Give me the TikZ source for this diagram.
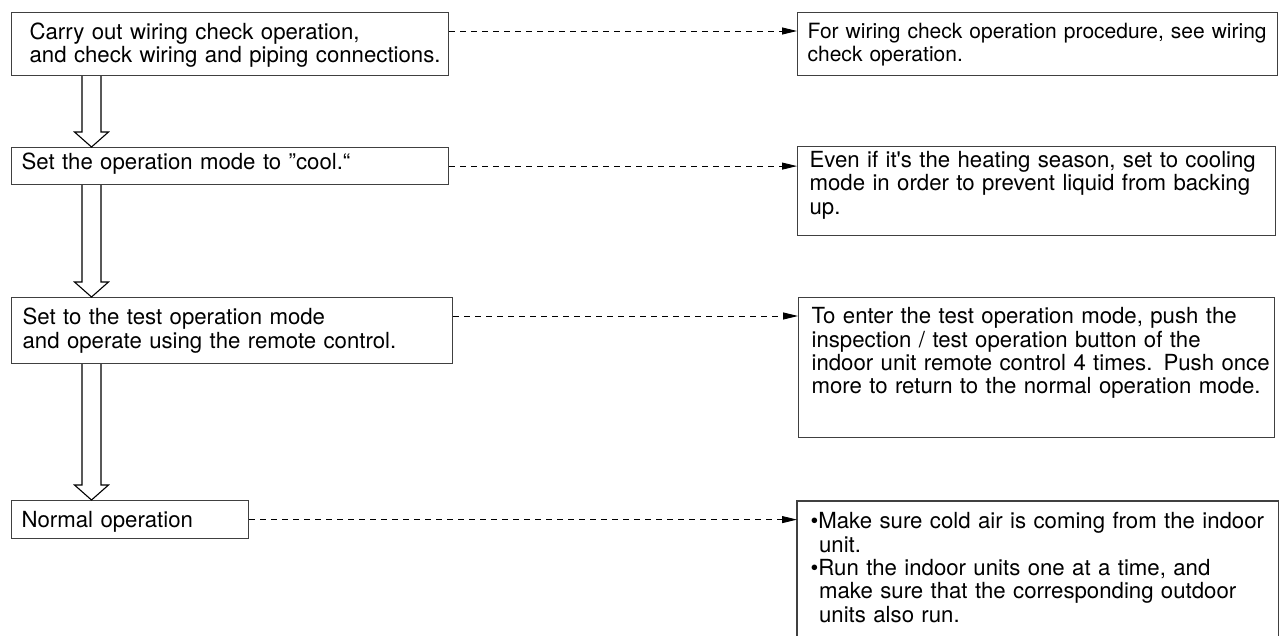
\documentclass[tikz,border=0pt]{standalone}
\usepackage{fontspec}
\usetikzlibrary{arrows.meta, calc}

\newfontfamily\flowfont{TeX Gyre Heros}[Ligatures=TeXOff]

\tikzset{
  stepbox/.style={draw=black!75, line width=1.2pt, anchor=north west,
    inner xsep=10pt, inner ysep=0pt, align=left,
    font=\flowfont\fontsize{22.2pt}{23.4pt}\selectfont},
  dashlink/.style={draw=black, line width=0.9pt, dash pattern=on 6pt off 5pt,
    -{Triangle[length=15pt,width=7pt]}},
  hollow/.style={draw=black, line width=1.1pt, fill=white},
}

% hollow flow arrow from #1 (top) down to #2 (tip)
\newcommand{\flowarrow}[2]{%
  \draw[hollow] ($(#1)+(-9.5,0)$) -- ($(#2)+(-9.5,-15)$) -- ($(#2)+(-17,-15)$)
    -- (#2) -- ($(#2)+(17,-15)$) -- ($(#2)+(9.5,-15)$) -- ($(#1)+(9.5,0)$);}

\begin{document}
\begin{tikzpicture}[x=1pt, y=-1pt]

  \useasboundingbox (0,0) rectangle (1279,636);

  % Steps
  \node[stepbox, inner xsep=7pt, text width=423pt, text height=27pt, text depth=36pt] (b1) at (11,12)
    {\mbox{\hspace*{11pt}Carry out wiring check operation,}\\\mbox{\hspace*{11pt}and check wiring and piping connections.}};
  \node[stepbox, text width=417pt, text height=22pt, text depth=15pt] (b2) at (11,147)
    {\mbox{Set the operation mode to ”cool.“}};
  \node[stepbox, inner xsep=11pt, text width=419pt, text height=27pt, text depth=39pt] (b3) at (11,297)
    {\mbox{Set to the test operation mode}\\\mbox{and operate using the remote control.}};
  \node[stepbox, text width=217pt, text height=27pt, text depth=11pt] (b4) at (11,500)
    {\mbox{Normal operation}};

  % Notes
  \node[stepbox, font=\flowfont\fontsize{21pt}{23.4pt}\selectfont, text width=460pt, text height=26pt, text depth=37pt] (r1) at (797,12)
    {\mbox{For wiring check operation procedure, see wiring}\\\mbox{check operation.}};
  \node[stepbox, inner xsep=12pt, text width=454pt, text height=21pt, text depth=68pt] (r2) at (797,146)
    {\mbox{Even if it's the heating season, set to cooling}\\\mbox{mode in order to prevent liquid from backing}\\\mbox{up.}};
  \node[stepbox, inner xsep=13pt, text width=450pt, text height=26pt, text depth=114pt] (r3) at (798,297)
    {\mbox{To enter the test operation mode, push the}\\\mbox{inspection / test operation button of the}\\\mbox{indoor unit remote control 4 times. Push once}\\\mbox{more to return to the normal operation mode.}};
  \node[stepbox, draw=none, inner xsep=13pt, text width=454pt, text height=27pt, text depth=108pt] (r4) at (797,501)
    {\mbox{•Make sure cold air is coming from the indoor}\\\mbox{\hspace*{8.5pt}unit.}\\\mbox{•Run the indoor units one at a time, and}\\\mbox{\hspace*{8.5pt}make sure that the corresponding outdoor}\\\mbox{\hspace*{8.5pt}units also run.}};
  \draw[black!75, line width=1.2pt] (r4.south west) -- (r4.north west) -- (r4.north east) -- (r4.south east);

  % Flow arrows
  \coordinate (a1top) at ($(b1.south west)+(80.5,0)$);
  \coordinate (a1tip) at ($(b2.north west)+(80.5,0)$);
  \coordinate (a2top) at ($(b2.south west)+(80.5,0)$);
  \coordinate (a2tip) at ($(b3.north west)+(80.5,0)$);
  \coordinate (a3top) at ($(b3.south west)+(80.5,0)$);
  \coordinate (a3tip) at ($(b4.north west)+(80.5,0)$);
  \flowarrow{a1top}{a1tip}
  \flowarrow{a2top}{a2tip}
  \flowarrow{a3top}{a3tip}

  % Dashed links
  \draw[dashlink] ($(b1.north east)+(0,19)$) -- ($(r1.north west)+(0,19)$);
  \draw[dashlink] (b2.east) -- (b2.east -| r2.west);
  \draw[dashlink] ($(b3.north east)+(0,19)$) -- ($(r3.north west)+(0,19)$);
  \draw[dashlink] (b4.east) -- (b4.east -| r4.west);

\end{tikzpicture}
\end{document}
